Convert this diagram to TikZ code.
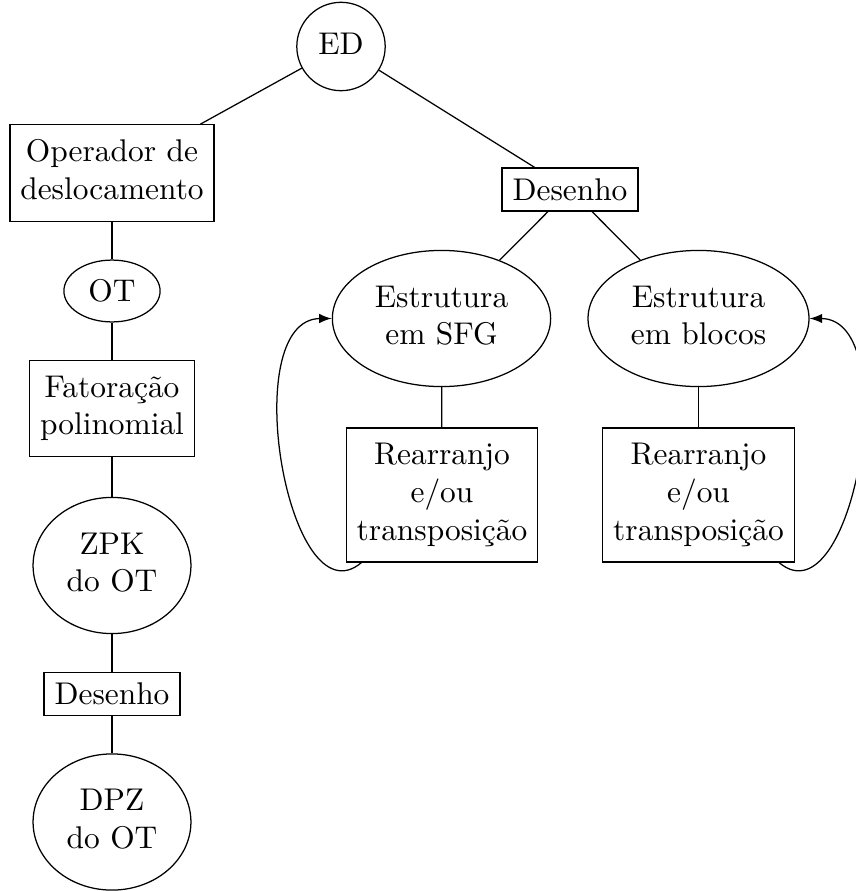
\documentclass[tikz,border=0pt]{standalone}
\usetikzlibrary{shapes.geometric,arrows}
\begin{document}
\begin{tikzpicture}[x=0.3185pt,y=0.3185pt,
  box/.style={draw,rectangle,align=center},
  ell/.style={draw,ellipse,align=center},
  circ/.style={draw,circle,align=center},
  loopline/.style={-latex}]
\useasboundingbox (0,0) rectangle (855,-891);
\node[circ] (ed)   at (341,-46.5) {\strut ED};
\node[box]  (op)   at (112,-173) {\strut Operador de\\deslocamento\strut};
\node[ell]  (ot)   at (112,-291) {OT};
\node[box]  (fat)  at (112,-408.5) {\strut Fatoração\\polinomial\strut};
\node[ell]  (zpk)  at (112,-565.5) {\strut ZPK\\do OT\strut};
\node[box]  (desL) at (112,-694) {Desenho};
\node[ell]  (dpz)  at (112,-822) {\strut DPZ\\do OT\strut};
\node[box]  (desR) at (570,-189.5) {Desenho};
\node[ell]  (sfg)  at (441.5,-318.5) {\strut Estrutura\\em SFG\strut};
\node[ell]  (blo)  at (698.5,-318.5) {\strut Estrutura\\em blocos\strut};
\node[box]  (rL)   at (442,-495) {\strut Rearranjo\\e/ou\\transposição\strut};
\node[box]  (rR)   at (698.5,-495) {\strut Rearranjo\\e/ou\\transposição\strut};
\draw (ed) -- (op);
\draw (ed) -- (desR);
\draw (op) -- (ot);
\draw (ot) -- (fat);
\draw (fat) -- (zpk);
\draw (zpk) -- (desL);
\draw (desL) -- (dpz);
\draw (desR) -- (sfg);
\draw (desR) -- (blo);
\draw (sfg) -- (rL);
\draw (blo) -- (rR);
\draw[loopline] (rL.220) to[out=220,in=180] (sfg.west);
\draw[loopline] (rR.-40) to[out=-40,in=0] (blo.east);
\end{tikzpicture}
\end{document}
